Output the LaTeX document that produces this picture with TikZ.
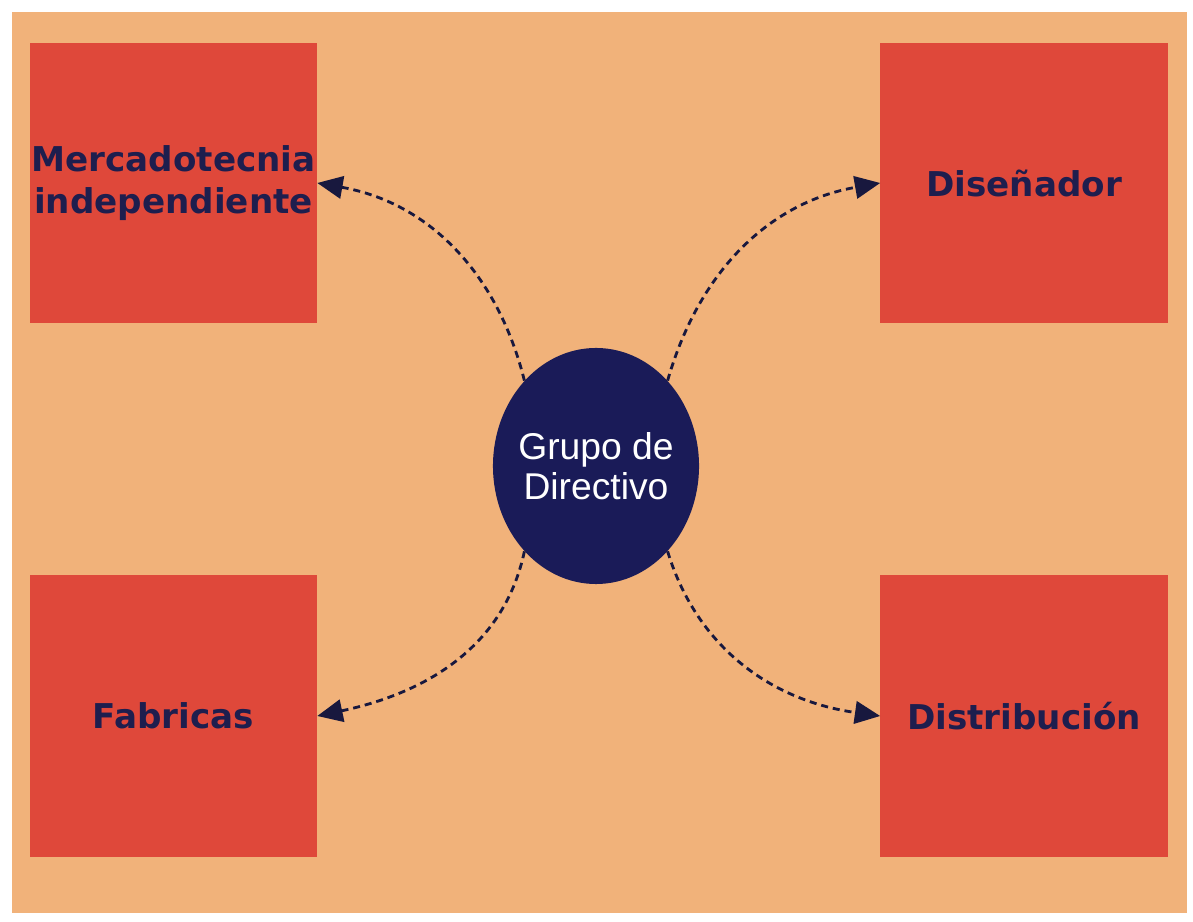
\documentclass[tikz,border=0pt]{standalone}
\usepackage{fontspec}
\setmainfont{Liberation Sans}
\newfontfamily\cajafont{DejaVu Sans}
\usetikzlibrary{arrows.meta,shapes.geometric}
\definecolor{fondo}{RGB}{241,178,122}
\definecolor{rojo}{RGB}{223,72,58}
\definecolor{marino}{RGB}{30,30,78}
\definecolor{azul}{RGB}{26,27,88}
\begin{document}
\begin{tikzpicture}[x=0.025cm,y=0.025cm,line join=round,
  caja/.style={fill=rojo,minimum width=7.175cm,minimum height=7cm,inner sep=0pt,
    text=marino,align=center,font=\cajafont\bfseries\fontsize{24.3}{29.5}\selectfont},
  centro/.style={ellipse,fill=azul,minimum width=5.15cm,minimum height=5.9cm,inner sep=-5pt,
    text=white,align=center,font=\fontsize{26.5}{28.5}\selectfont},
  flecha/.style={-{Triangle[length=18pt,width=16pt]},line width=2pt,
    dash pattern=on 5pt off 3.5pt,draw=marino!80!black}]
\useasboundingbox (0,0) rectangle (1193,922);
\fill[fondo] (12,9) rectangle (1187,910);
% cajas
\node[caja] (merc) at (173.5,739) {Mercadotecnia\\independiente};
\node[caja] (dise) at (1024,739) {Diseñador};
\node[caja,minimum height=7.05cm] (fabr) at (173.5,206) {Fabricas};
\node[caja,minimum height=7.05cm] (dist) at (1024,206) {Distribución};
\node[centro] (grupo) at (596,456) {Grupo de\\Directivo};
% flechas
\draw[flecha] (grupo.130) to[out=104,in=-10] (merc.east);
\draw[flecha] (grupo.50) to[out=74,in=190] (dise.west);
\draw[flecha] (grupo.230) to[out=258,in=12] (fabr.east);
\draw[flecha] (grupo.310) to[out=287,in=172] (dist.west);
\end{tikzpicture}
\end{document}
